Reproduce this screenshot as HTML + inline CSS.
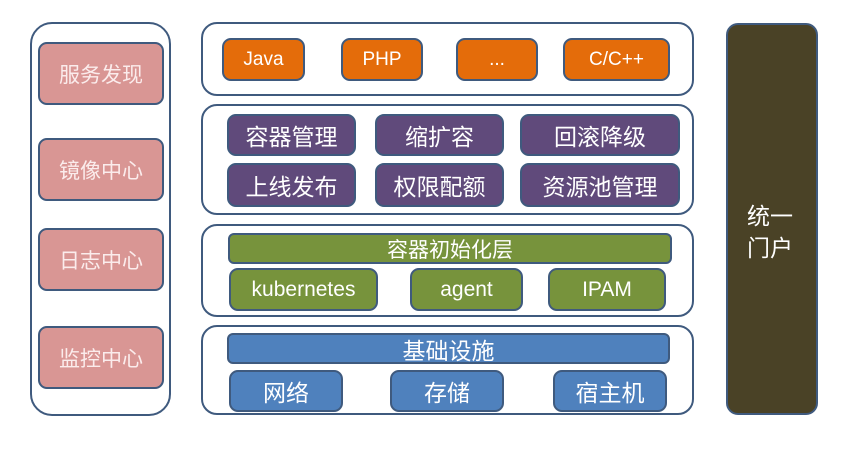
<!DOCTYPE html>
<html><head><meta charset="utf-8"><style>
body{margin:0;width:850px;height:452px;background:#fff;position:relative;overflow:hidden;font-family:"Liberation Sans","Noto Sans CJK SC",sans-serif}
.b{position:absolute;box-sizing:border-box;border:2.5px solid #3f5a7e;display:flex;align-items:center;justify-content:center;color:#fff;border-radius:9px}
.p{background:#fff;border-radius:16px}
.k{background:#d99694;font-size:21px;color:#fbecec}
.o{background:#e46c0a;font-size:19px}
.u{background:#604a7b;font-size:23px}
.g{background:#77933c;font-size:21px}
.l{background:#4f81bd;font-size:23px}
</style></head><body>
<div class="b p" style="left:30px;top:22px;width:141px;height:394px;border-radius:22px"></div>
<div class="b k" style="left:38px;top:42px;width:126px;height:63px">服务发现</div>
<div class="b k" style="left:38px;top:138px;width:126px;height:63px">镜像中心</div>
<div class="b k" style="left:38px;top:228px;width:126px;height:63px">日志中心</div>
<div class="b k" style="left:38px;top:326px;width:126px;height:63px">监控中心</div>

<div class="b p" style="left:201px;top:22px;width:493px;height:74px"></div>
<div class="b o" style="left:222px;top:38px;width:83px;height:43px">Java</div>
<div class="b o" style="left:341px;top:38px;width:82px;height:43px">PHP</div>
<div class="b o" style="left:456px;top:38px;width:82px;height:43px">...</div>
<div class="b o" style="left:563px;top:38px;width:107px;height:43px">C/C++</div>

<div class="b p" style="left:201px;top:104px;width:493px;height:111px"></div>
<div class="b u" style="left:227px;top:114px;width:129px;height:42px">容器管理</div>
<div class="b u" style="left:375px;top:114px;width:129px;height:42px">缩扩容</div>
<div class="b u" style="left:520px;top:114px;width:160px;height:42px">回滚降级</div>
<div class="b u" style="left:227px;top:163px;width:129px;height:44px">上线发布</div>
<div class="b u" style="left:375px;top:163px;width:129px;height:44px">权限配额</div>
<div class="b u" style="left:520px;top:163px;width:160px;height:44px">资源池管理</div>

<div class="b p" style="left:201px;top:224px;width:493px;height:93px"></div>
<div class="b g" style="left:228px;top:233px;width:444px;height:31px;border-radius:6px">容器初始化层</div>
<div class="b g" style="left:229px;top:268px;width:149px;height:43px">kubernetes</div>
<div class="b g" style="left:410px;top:268px;width:113px;height:43px">agent</div>
<div class="b g" style="left:548px;top:268px;width:118px;height:43px">IPAM</div>

<div class="b p" style="left:201px;top:325px;width:493px;height:90px"></div>
<div class="b l" style="left:227px;top:333px;width:443px;height:31px;border-radius:6px">基础设施</div>
<div class="b l" style="left:229px;top:370px;width:114px;height:42px">网络</div>
<div class="b l" style="left:390px;top:370px;width:114px;height:42px">存储</div>
<div class="b l" style="left:553px;top:370px;width:114px;height:42px">宿主机</div>

<div class="b" style="left:726px;top:23px;width:92px;height:392px;background:#4a4226;font-size:23px;line-height:32px;border-radius:12px;align-items:flex-start;justify-content:flex-start;padding:175px 0 0 19px">统一<br>门户</div>
</body></html>
